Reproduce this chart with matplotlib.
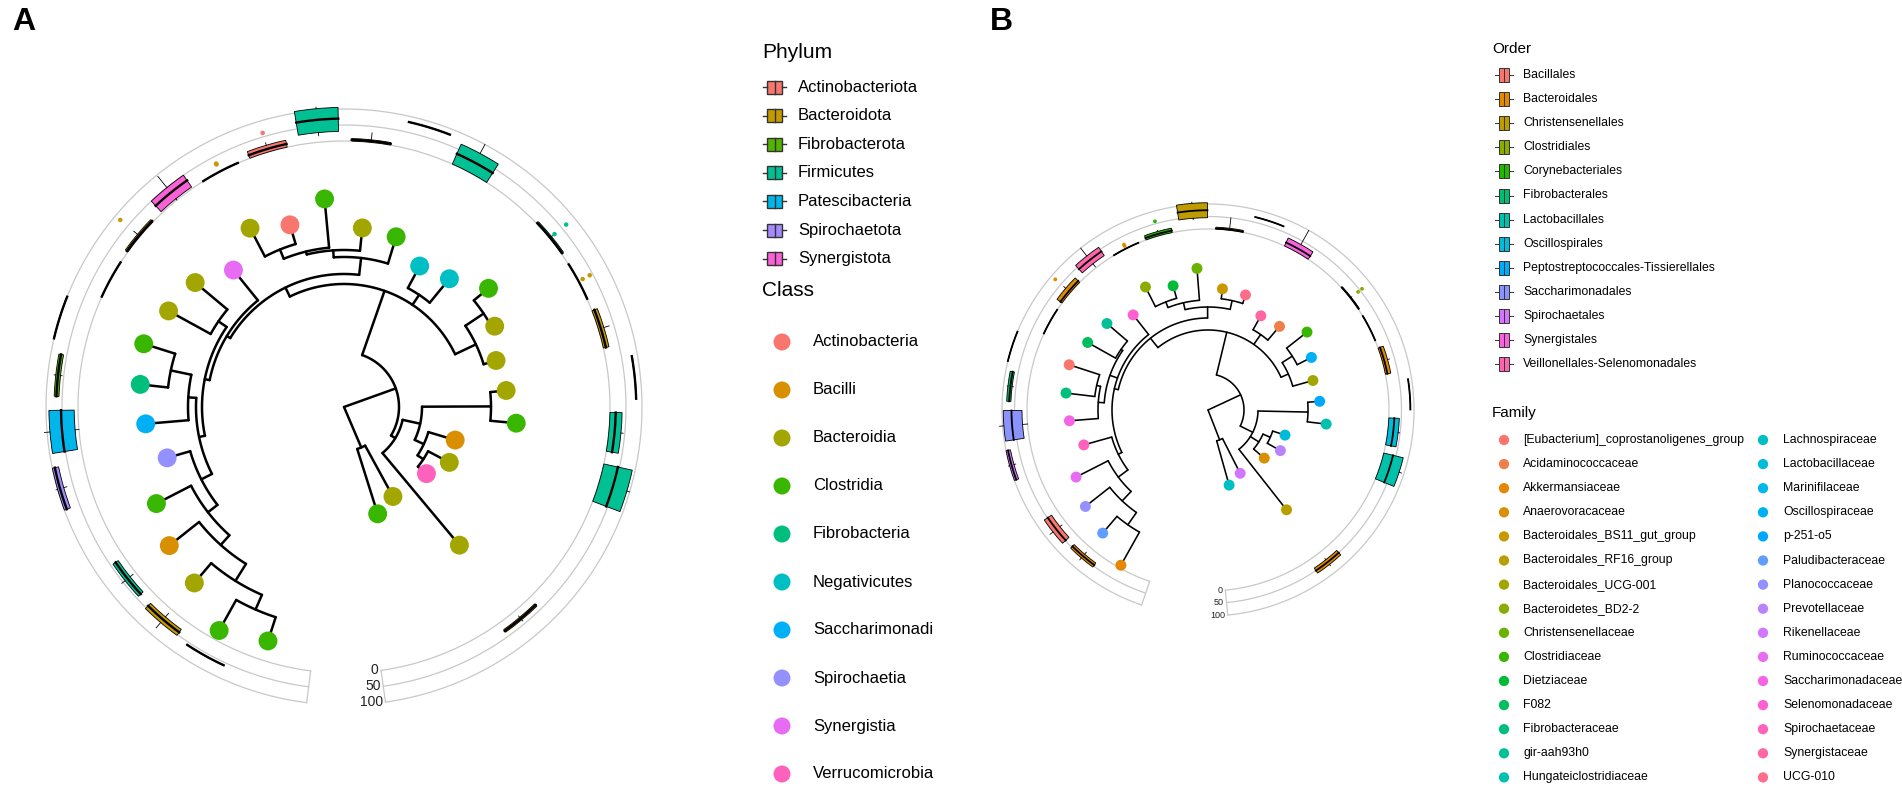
import numpy as np
import matplotlib
matplotlib.use("Agg")
import matplotlib.pyplot as plt
from matplotlib.patches import Rectangle

plt.rcParams['font.family'] = ['Liberation Sans', 'DejaVu Sans']
nan = np.nan

# ---------------- panel A data ----------------
phyla = ['Actinobacteriota', 'Bacteroidota', 'Fibrobacterota', 'Firmicutes',
         'Patescibacteria', 'Spirochaetota', 'Synergistota']
classes = ['Actinobacteria', 'Bacilli', 'Bacteroidia', 'Clostridia', 'Fibrobacteria',
           'Negativicutes', 'Saccharimonadi', 'Spirochaetia', 'Synergistia', 'Verrucomicrobia']
class_phylum = [0, 3, 1, 3, 2, 3, 4, 5, 6, -1]

tip_class_a = [3, 3, 2, 1, 3, 7, 6, 4, 3, 2, 2, 8, 2, 0, 3, 2, 3, 5, 5, 3,
               2, 2, 2, 3, 1, 2, 9, 2, 2, 3]
depth_a = [246, 256, 231, 223, 211, 184, 199, 205, 210, 200, 194, 176, 202, 190, 209,
           180, 178, 160, 166, 187, 171, 159, 163, 173, 116, 119, 106, 180, 102, 112]
# nested nodes: [node depth, children...]; ints are tips
tree_a = [0,
          [55,
           [123,
            [133,
             [137,
              [142,
               [148,
                [160, [172, [185, [205, [221, 0, 1], 2], 3], 4], 5],
                [156, 6, [177, 7, 8]]],
               [152, 9, 10]],
              11],
             [150, [157, [160, [170, 12, 13], 14], 15], 16]],
            [135, 17, 18],
            [146, [168, 19, 20], 21]],
           [60,
            [78, [147, 22, 23], [88, 24, [95, 25, 26]]],
            27]],
          [44, 28, 29]]

# abundance boxes (0-100 scale), one per tip
q1_a = [nan, 58, 30, 22, nan, 80, 12, 60, 99, 0, 0, 5, 0, 0, 30, 0, 81, 0, nan, 0,
        0, 0, 81, 0, 0, nan, nan, 25, nan, nan]
med_a = [nan, 59, 41, 32, nan, 92, 53, 68, 100, 0.5, 4, 30, 0.5, 10, 70, 4, 82, 35, nan, 3,
         0.5, 8, 82, 18, 45, nan, nan, 30, nan, nan]
q3_a = [nan, 60, 53, 42, nan, 100, 91, 75, 101, 1, 10, 50, 1, 22, 105, 8, 83, 68, nan, 8,
        1, 18, 83, 38, 91, nan, nan, 35, nan, nan]
lo_a = [nan, 58, 15, 10, nan, 70, 0, 55, 99, 0, 0, 0, 0, 0, 20, 0, 81, 0, nan, 0,
        0, 0, 81, 0, 0, nan, nan, 20, nan, nan]
hi_a = [nan, 60, 75, 55, nan, 105, 108, 80, 101, 1, 25, 95, 1, 30, 110, 30, 83, 100, nan, 12,
        1, 35, 83, 45, 100, nan, nan, 40, nan, nan]
out_tip_a = [10, 12, 12, 13, 19, 19, 20, 20]
out_val_a = [80, 25, 28, 62, 20, 67, 15, 40]

# ---------------- panel B data ----------------
orders = ['Bacillales', 'Bacteroidales', 'Christensenellales', 'Clostridiales',
          'Corynebacteriales', 'Fibrobacterales', 'Lactobacillales', 'Oscillospirales',
          'Peptostreptococcales-Tissierellales', 'Saccharimonadales', 'Spirochaetales',
          'Synergistales', 'Veillonellales-Selenomonadales']
families = ['[Eubacterium]_coprostanoligenes_group', 'Acidaminococcaceae', 'Akkermansiaceae',
            'Anaerovoracaceae', 'Bacteroidales_BS11_gut_group', 'Bacteroidales_RF16_group',
            'Bacteroidales_UCG-001', 'Bacteroidetes_BD2-2', 'Christensenellaceae',
            'Clostridiaceae', 'Dietziaceae', 'F082', 'Fibrobacteraceae', 'gir-aah93h0',
            'Hungateiclostridiaceae', 'Lachnospiraceae', 'Lactobacillaceae', 'Marinifilaceae',
            'Oscillospiraceae', 'p-251-o5', 'Paludibacteraceae', 'Planococcaceae',
            'Prevotellaceae', 'Rikenellaceae', 'Ruminococcaceae', 'Saccharimonadaceae',
            'Selenomonadaceae', 'Spirochaetaceae', 'Synergistaceae', 'UCG-010']

tip_family_b = [2, 20, 21, 24, 27, 25, 12, 0, 11, 13, 26, 7, 10, 8, 4, 29, 28, 1, 9, 18,
                6, 19, 14, 16, 22, 3, 5, 23, 15]
tip_order_b = [-1, 1, 0, 7, 10, 9, 5, 7, 1, 1, 12, 1, 4, 2, 1, 7, 11, 12, 3, 7,
               1, 1, 7, 6, 1, 8, 1, 1, -1]
depth_b = [178, 162, 156, 148, 129, 139, 143, 146, 138, 133, 121, 138, 129, 142, 122,
           121, 108, 110, 126, 116, 109, 112, 119, 81, 83, 74, 127, 71, 78]
tree_b = [0,
          [36,
           [80,
            [92,
             [96,
              [100, [112, [125, [140, 0, 1], 2], 3], 4],
              [104, [110, 5, [114, 6, 7]], [106, 8, 9]],
              10],
             [103, [110, [116, 11, 12], 13], [112, 14, 15]]],
            [92, 16, 17],
            [88, [100, 18, 19], 20]],
           [50, [100, 21, 22], [60, [68, 23, 24], 25], 26]],
          [32, 27, 28]]

q1_b = [nan, 35, 30, nan, 82, 20, 65, 99.5, 0, 0, 20, 0, 0, 45, 0, 70, 0, nan, 0, 0,
        0, 85, 0, 0, nan, nan, 38, nan, nan]
med_b = [nan, 45, 48, nan, 92, 62, 72, 100, 0.3, 8, 40, 0.3, 8, 75, 3, 70.5, 15, nan, 2, 0.3,
         8, 85.5, 22, 38, nan, nan, 50, nan, nan]
q3_b = [nan, 55, 65, nan, 100, 95, 82, 100.5, 0.6, 25, 60, 0.6, 18, 105, 8, 71, 35, nan, 5, 0.6,
        22, 86, 42, 80, nan, nan, 62, nan, nan]
lo_b = [nan, 25, 20, nan, 75, 0, 60, 99.5, 0, 0, 5, 0, 0, 40, 0, 70, 0, nan, 0, 0,
        0, 85, 0, 0, nan, nan, 32, nan, nan]
hi_b = [nan, 65, 80, nan, 105, 112, 85, 100.5, 0.6, 35, 100, 0.6, 22, 110, 50, 71, 100, nan, 8, 0.6,
        30, 86, 48, 90, nan, nan, 68, nan, nan]
out_tip_b = [9, 11, 11, 12, 18, 18]
out_val_b = [80, 12, 18, 60, 40, 60]

axis_labels = ['0', '50', '100']


# ---------------- helpers ----------------
def hcl_color(h, c=100.0, l=65.0):
    hr = np.deg2rad(h)
    u, v = c * np.cos(hr), c * np.sin(hr)
    xn, yn, zn = 95.047, 100.0, 108.883
    un = 4 * xn / (xn + 15 * yn + 3 * zn)
    vn = 9 * yn / (xn + 15 * yn + 3 * zn)
    y = yn * ((l + 16) / 116) ** 3
    up = u / (13 * l) + un
    vp = v / (13 * l) + vn
    x = 9 * y * up / (4 * vp)
    z = -x / 3 - 5 * y + 3 * y / vp
    m = np.array([[3.240479, -1.537150, -0.498535],
                  [-0.969256, 1.875992, 0.041556],
                  [0.055648, -0.204043, 1.057311]])
    rgb = m @ np.array([x, y, z]) / 100
    rgb = np.where(rgb > 0.0031308, 1.055 * np.abs(rgb) ** (1 / 2.4) - 0.055, 12.92 * rgb)
    return tuple(np.clip(rgb, 0, 1))


def hue_pal(n):
    return [hcl_color(h) for h in np.linspace(15, 375, n + 1)[:-1]]


def draw_tree(ax, node, th, depth, lw):
    if isinstance(node, int):
        return th[node], depth[node]
    r = node[0]
    angles = []
    for ch in node[1:]:
        t, cr = draw_tree(ax, ch, th, depth, lw)
        ax.plot([t, t], [r, cr], color='black', lw=lw, solid_capstyle='round', zorder=2)
        angles.append(t)
    arc = np.linspace(min(angles), max(angles), 80)
    ax.plot(arc, np.full_like(arc, r), color='black', lw=lw, solid_capstyle='round', zorder=2)
    return (angles[0] + angles[-1]) / 2, r


def draw_rings(ax, t0, t1, radii, fs):
    arc = np.linspace(t0, t1, 600)
    for r in radii:
        ax.plot(arc, np.full_like(arc, r), color='#C8C8C8', lw=0.9, zorder=1)
    for t in (t0, t1):
        ax.plot([t, t], [radii[0], radii[-1]], color='#C8C8C8', lw=0.9, zorder=1)
    for r, s in zip(radii, axis_labels):
        ax.annotate(s, (t1, r), xytext=(-2, 0), textcoords='offset points',
                    ha='right', va='center', fontsize=fs, color='#222222')


def draw_boxes(ax, th, q1, med, q3, lo, hi, cols, r0, r1, width, lw_med):
    sc = (r1 - r0) / 100
    for i in range(len(th)):
        if np.isnan(med[i]):
            continue
        ra, rm, rb = r0 + q1[i] * sc, r0 + med[i] * sc, r0 + q3[i] * sc
        ax.bar(th[i], max(rb - ra, 0.2), width=width, bottom=ra, color=cols[i],
               edgecolor='black', linewidth=0.6, zorder=3)
        arc = np.linspace(th[i] - width / 2, th[i] + width / 2, 20)
        ax.plot(arc, np.full_like(arc, rm), color='black', lw=lw_med, zorder=4)
        ax.plot([th[i], th[i]], [r0 + lo[i] * sc, ra], color='black', lw=0.6, zorder=3)
        ax.plot([th[i], th[i]], [rb, r0 + hi[i] * sc], color='black', lw=0.6, zorder=3)


W, H = 1902, 786
fig = plt.figure(figsize=(W / 100, H / 100), dpi=100)


def polar_at(cx, cy, rmax):
    ax = fig.add_axes([(cx - rmax) / W, (H - cy - rmax) / H, 2 * rmax / W, 2 * rmax / H],
                      projection='polar')
    ax.set_ylim(0, rmax)
    ax.set_axis_off()
    return ax


# ---------------- panel A ----------------
phylum_cols = hue_pal(7)
class_cols = hue_pal(10)
axA = polar_at(344, 407, 340)
th_a = np.deg2rad(252 - 11.19 * np.arange(len(depth_a)))
draw_tree(axA, tree_a, th_a, depth_a, 1.8)
axA.scatter(th_a, depth_a, s=185, c=[class_cols[c] for c in tip_class_a],
            edgecolors='none', zorder=5)
r_a = [266, 282, 298]
draw_rings(axA, np.deg2rad(262.8), np.deg2rad(-82), r_a, 10)
box_cols_a = [phylum_cols[class_phylum[c]] for c in tip_class_a]
draw_boxes(axA, th_a, q1_a, med_a, q3_a, lo_a, hi_a, box_cols_a, r_a[0], r_a[2],
           np.deg2rad(8.4), 1.7)
axA.scatter(th_a[out_tip_a], r_a[0] + np.array(out_val_a) * (r_a[2] - r_a[0]) / 100,
            s=5, c=[box_cols_a[t] for t in out_tip_a], zorder=4)

# ---------------- panel B ----------------
order_cols = hue_pal(13)
family_cols = hue_pal(30)
axB = polar_at(1208, 410, 240)
th_b = np.deg2rad(240.7 - 11.25 * np.arange(len(depth_b)))
draw_tree(axB, tree_b, th_b, depth_b, 1.15)
axB.scatter(th_b, depth_b, s=62, c=[family_cols[f] for f in tip_family_b],
            edgecolors='none', zorder=5)
r_b = [181, 193.5, 206]
draw_rings(axB, np.deg2rad(251.2), np.deg2rad(-84.5), r_b, 6.5)
box_cols_b = [order_cols[o] if o >= 0 else 'white' for o in tip_order_b]
draw_boxes(axB, th_b, q1_b, med_b, q3_b, lo_b, hi_b, box_cols_b, r_b[0], r_b[2],
           np.deg2rad(8.6), 1.3)
axB.scatter(th_b[out_tip_b], r_b[0] + np.array(out_val_b) * (r_b[2] - r_b[0]) / 100,
            s=3, c=[box_cols_b[t] for t in out_tip_b], zorder=4)

# ---------------- legends and panel letters ----------------
lax = fig.add_axes([0, 0, 1, 1])
lax.set_xlim(0, W)
lax.set_ylim(H, 0)
lax.set_axis_off()

lax.text(12, 22, 'A', fontsize=23, fontweight='bold', va='center', ha='left')
lax.text(990, 22, 'B', fontsize=23, fontweight='bold', va='center', ha='left')


def box_key(x, y, w, h, col, lw):
    lax.add_patch(Rectangle((x - w / 2, y - h / 2), w, h, facecolor=col,
                            edgecolor='#333333', lw=lw))
    lax.plot([x, x], [y - h / 2, y + h / 2], color='#333333', lw=lw)
    lax.plot([x - w / 2 - 4, x - w / 2], [y, y], color='#333333', lw=lw)
    lax.plot([x + w / 2, x + w / 2 + 4], [y, y], color='#333333', lw=lw)


lax.text(762, 52, 'Phylum', fontsize=15, va='center')
for i, name in enumerate(phyla):
    y = 87 + i * 28.6
    box_key(774.5, y, 15, 13, phylum_cols[i], 1.0)
    lax.text(798, y, name, fontsize=12, va='center')

lax.text(762, 291, 'Class', fontsize=15, va='center')
for i, name in enumerate(classes):
    y = 342 + i * 48.0
    lax.scatter([782], [y], s=150, color=class_cols[i], edgecolors='none')
    lax.text(813, y, name, fontsize=12, va='center')

lax.text(1492, 49, 'Order', fontsize=11, va='center')
for i, name in enumerate(orders):
    y = 75 + i * 24.1
    box_key(1504, y, 10, 14, order_cols[i], 0.7)
    lax.text(1523, y, name, fontsize=8.8, va='center')

lax.text(1492, 413, 'Family', fontsize=11, va='center')
for i, name in enumerate(families):
    col, row = divmod(i, 15)
    y = 440 + row * 24.1
    lax.scatter([1504 + col * 259], [y], s=55, color=family_cols[i], edgecolors='none')
    lax.text(1523 + col * 260, y, name, fontsize=8.8, va='center')

fig.savefig('out.png', dpi=100)
